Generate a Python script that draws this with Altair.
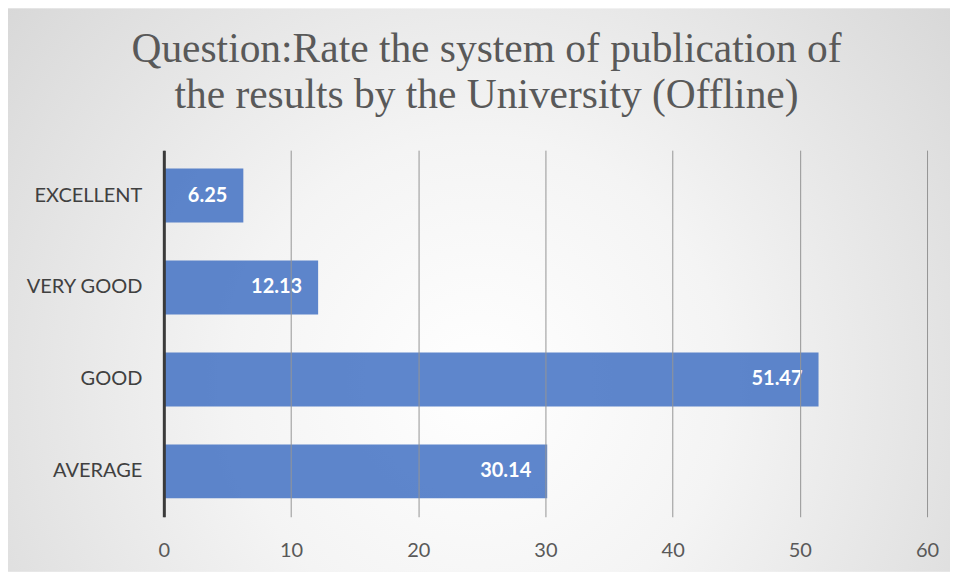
import altair as alt
import pandas as pd

categories = ["EXCELLENT", "VERY GOOD", "GOOD", "AVERAGE"]
values = [6.25, 12.13, 51.47, 30.14]
x_ticks = [0, 10, 20, 30, 40, 50, 60]
title_lines = ["Question:Rate the system of publication of",
               "the results by the University (Offline)"]

df = pd.DataFrame({"category": categories, "value": values})

W, H = 764, 367
PL, PT, PR, PB = 156, 142, 23, 55

bg = alt.Chart(alt.Data(values=[{}])).mark_rect(
    color=alt.Gradient(
        gradient="radial",
        stops=[
            alt.GradientStop(color="#ffffff", offset=0),
            alt.GradientStop(color="#f4f4f4", offset=0.35),
            alt.GradientStop(color="#d0d0d0", offset=1),
        ],
        x1=0.5, y1=0.6, r1=0, x2=0.5, y2=0.6, r2=0.75,
    )
).encode(
    x=alt.value(-PL), x2=alt.value(W + PR),
    y=alt.value(-PT), y2=alt.value(H + PB),
)

title_layers = [
    alt.Chart(alt.Data(values=[{"t": line}])).mark_text(
        font="Liberation Serif", fontSize=41.5, color="#595959",
        align="center", baseline="alphabetic",
    ).encode(text="t:N", x=alt.value(323), y=alt.value(yy))
    for line, yy in zip(title_lines, [-88, -42])
]

y_enc = alt.Y(
    "category:N", sort=categories, title=None,
    scale=alt.Scale(paddingInner=0.413, paddingOuter=0.2),
    axis=alt.Axis(
        domain=True, domainColor="#3a3a3a", domainWidth=3,
        ticks=False, labelPadding=22, labelFontSize=20,
        labelFont="Lato", labelColor="#404040", grid=False, zindex=2,
    ),
)
x_enc = alt.X(
    "value:Q", title=None,
    scale=alt.Scale(domain=[0, 60], nice=False),
    axis=alt.Axis(
        values=x_ticks, domain=False, ticks=False, grid=True,
        gridColor="#959595", gridWidth=1, labelPadding=24, labelFlush=False,
        labelFontSize=20, labelFont="Lato", labelColor="#595959", zindex=1,
    ),
)

bars = alt.Chart(df).mark_bar(color="#4472C4", opacity=0.86).encode(
    x=x_enc, y=y_enc
)
labels = alt.Chart(df).mark_text(
    align="right", baseline="middle", dx=-16, color="white",
    font="Lato", fontWeight="bold", fontSize=20,
).encode(
    x="value:Q",
    y=alt.Y("category:N", sort=categories),
    text=alt.Text("value:Q", format=".2f"),
)

chart = alt.layer(bg, *title_layers, bars, labels).properties(
    width=W, height=H,
    autosize=alt.AutoSizeParams(type="none"),
    padding={"left": PL, "top": PT, "right": PR, "bottom": PB},
).configure_view(stroke=None).configure(background="white")

chart.save("out.html", embed_options={"renderer": "svg", "actions": False})
